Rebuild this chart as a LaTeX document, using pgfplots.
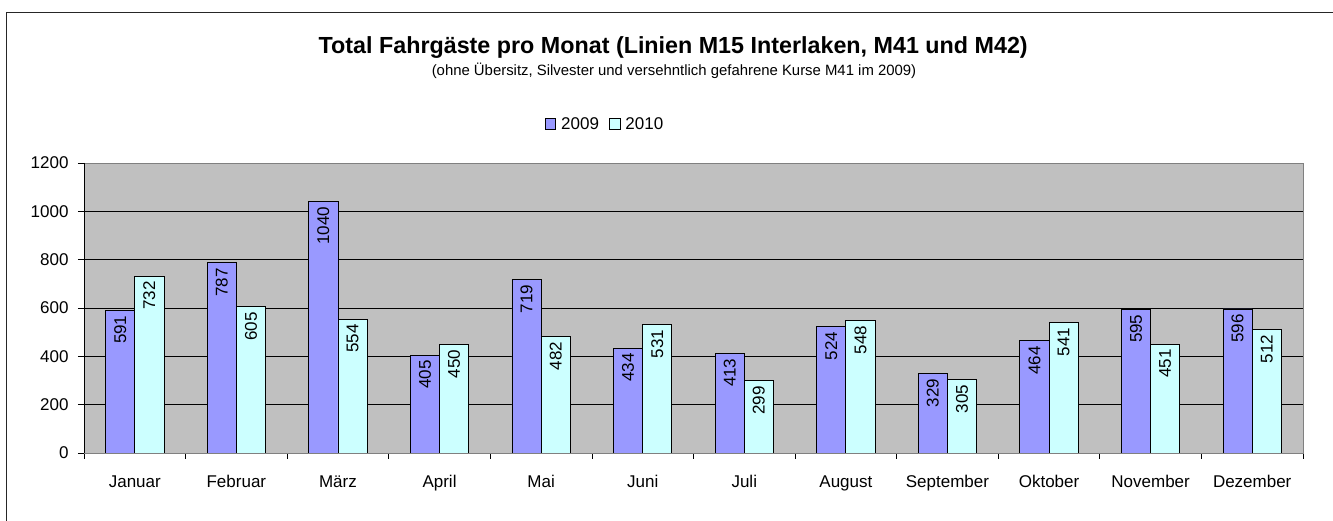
\documentclass[border=0pt]{standalone}
\usepackage{fontspec}
\setmainfont{Liberation Sans}
\usepackage{pgfplots}
\pgfplotsset{compat=1.18}
\usepackage{pgfplotstable}
\definecolor{cA}{HTML}{9999FF}
\definecolor{cB}{HTML}{CCFFFF}
\definecolor{plotbg}{HTML}{C0C0C0}
\definecolor{frameborder}{HTML}{808080}
\pgfplotstableread{
idx y2009 y2010
0 591 732
1 787 605
2 1040 554
3 405 450
4 719 482
5 434 531
6 413 299
7 524 548
8 329 305
9 464 541
10 595 451
11 596 512
}\datatable

\begin{document}
\begin{tikzpicture}[x=1pt,y=1pt]
\draw[line width=1.3pt, black!85] (6.7,-20) -- (6.7,508.7) -- (1360,508.7);
\node[anchor=base, inner sep=0pt, font=\fontsize{23.3}{26}\selectfont\bfseries] at (673.2,467.5) {Total Fahrgäste pro Monat (Linien M15 Interlaken, M41 und M42)};
\node[anchor=base, inner sep=0pt, font=\fontsize{14.9}{17}\selectfont] at (674,445) {(ohne Übersitz, Silvester und versehntlich gefahrene Kurse M41 im 2009)};
\begin{axis}[
  at={(84pt,68pt)}, anchor=south west,
  scale only axis, width=1219pt, height=290pt,
  ybar=0pt, bar width=0.287,
  xmin=-0.5, xmax=11.5, ymin=0, ymax=1200,
  ytick={0,200,...,1200},
  xtick={-0.5,0.5,...,11.5},
  xticklabels={Januar,Februar,März,April,Mai,Juni,Juli,August,September,Oktober,November,Dezember,{}},
  tick align=outside, major tick length=6pt,
  xtick pos=left, ytick pos=left,
  ymajorgrids, grid style={black, line width=0.8pt},
  axis background/.style={fill=plotbg},
  axis line style={draw=frameborder, line width=0.8pt},
  tick style={black, line width=0.8pt},
  ticklabel style={font=\fontsize{17}{20}\selectfont},
  xticklabel style={xshift=50.79pt, yshift=-13pt},
  yticklabel style={xshift=-6pt},
  /pgf/number format/assume math mode=true,
  /pgf/number format/1000 sep={},
  nodes near coords,
  every node near coord/.append style={rotate=90, anchor=east, inner sep=5pt, black, font=\fontsize{17}{20}\selectfont},
  legend style={at={(0.4274,1.1345)}, anchor=center, draw=none, fill=none,
    legend columns=2, font=\fontsize{17}{20}\selectfont,
    /tikz/every odd column/.append style={column sep=3pt},
    /tikz/every even column/.append style={column sep=8pt}},
  legend image code/.code={\draw[#1, draw=black, line width=0.8pt] (0pt,-5.3pt) rectangle (10.6pt,5.3pt);},
]
\addplot[fill=cA, draw=black, line width=0.8pt, bar shift=-0.1435] table[x=idx,y=y2009]{\datatable};
\addplot[fill=cB, draw=black, line width=0.8pt, bar shift=0.1435] table[x=idx,y=y2010]{\datatable};
\legend{2009,2010}
\draw[black, line width=0.8pt] (rel axis cs:0,1) -- (rel axis cs:0,0) -- (rel axis cs:1,0);
\end{axis}
\pgfresetboundingbox
\path[use as bounding box] (0,0) rectangle (1333,521);
\end{tikzpicture}
\end{document}
